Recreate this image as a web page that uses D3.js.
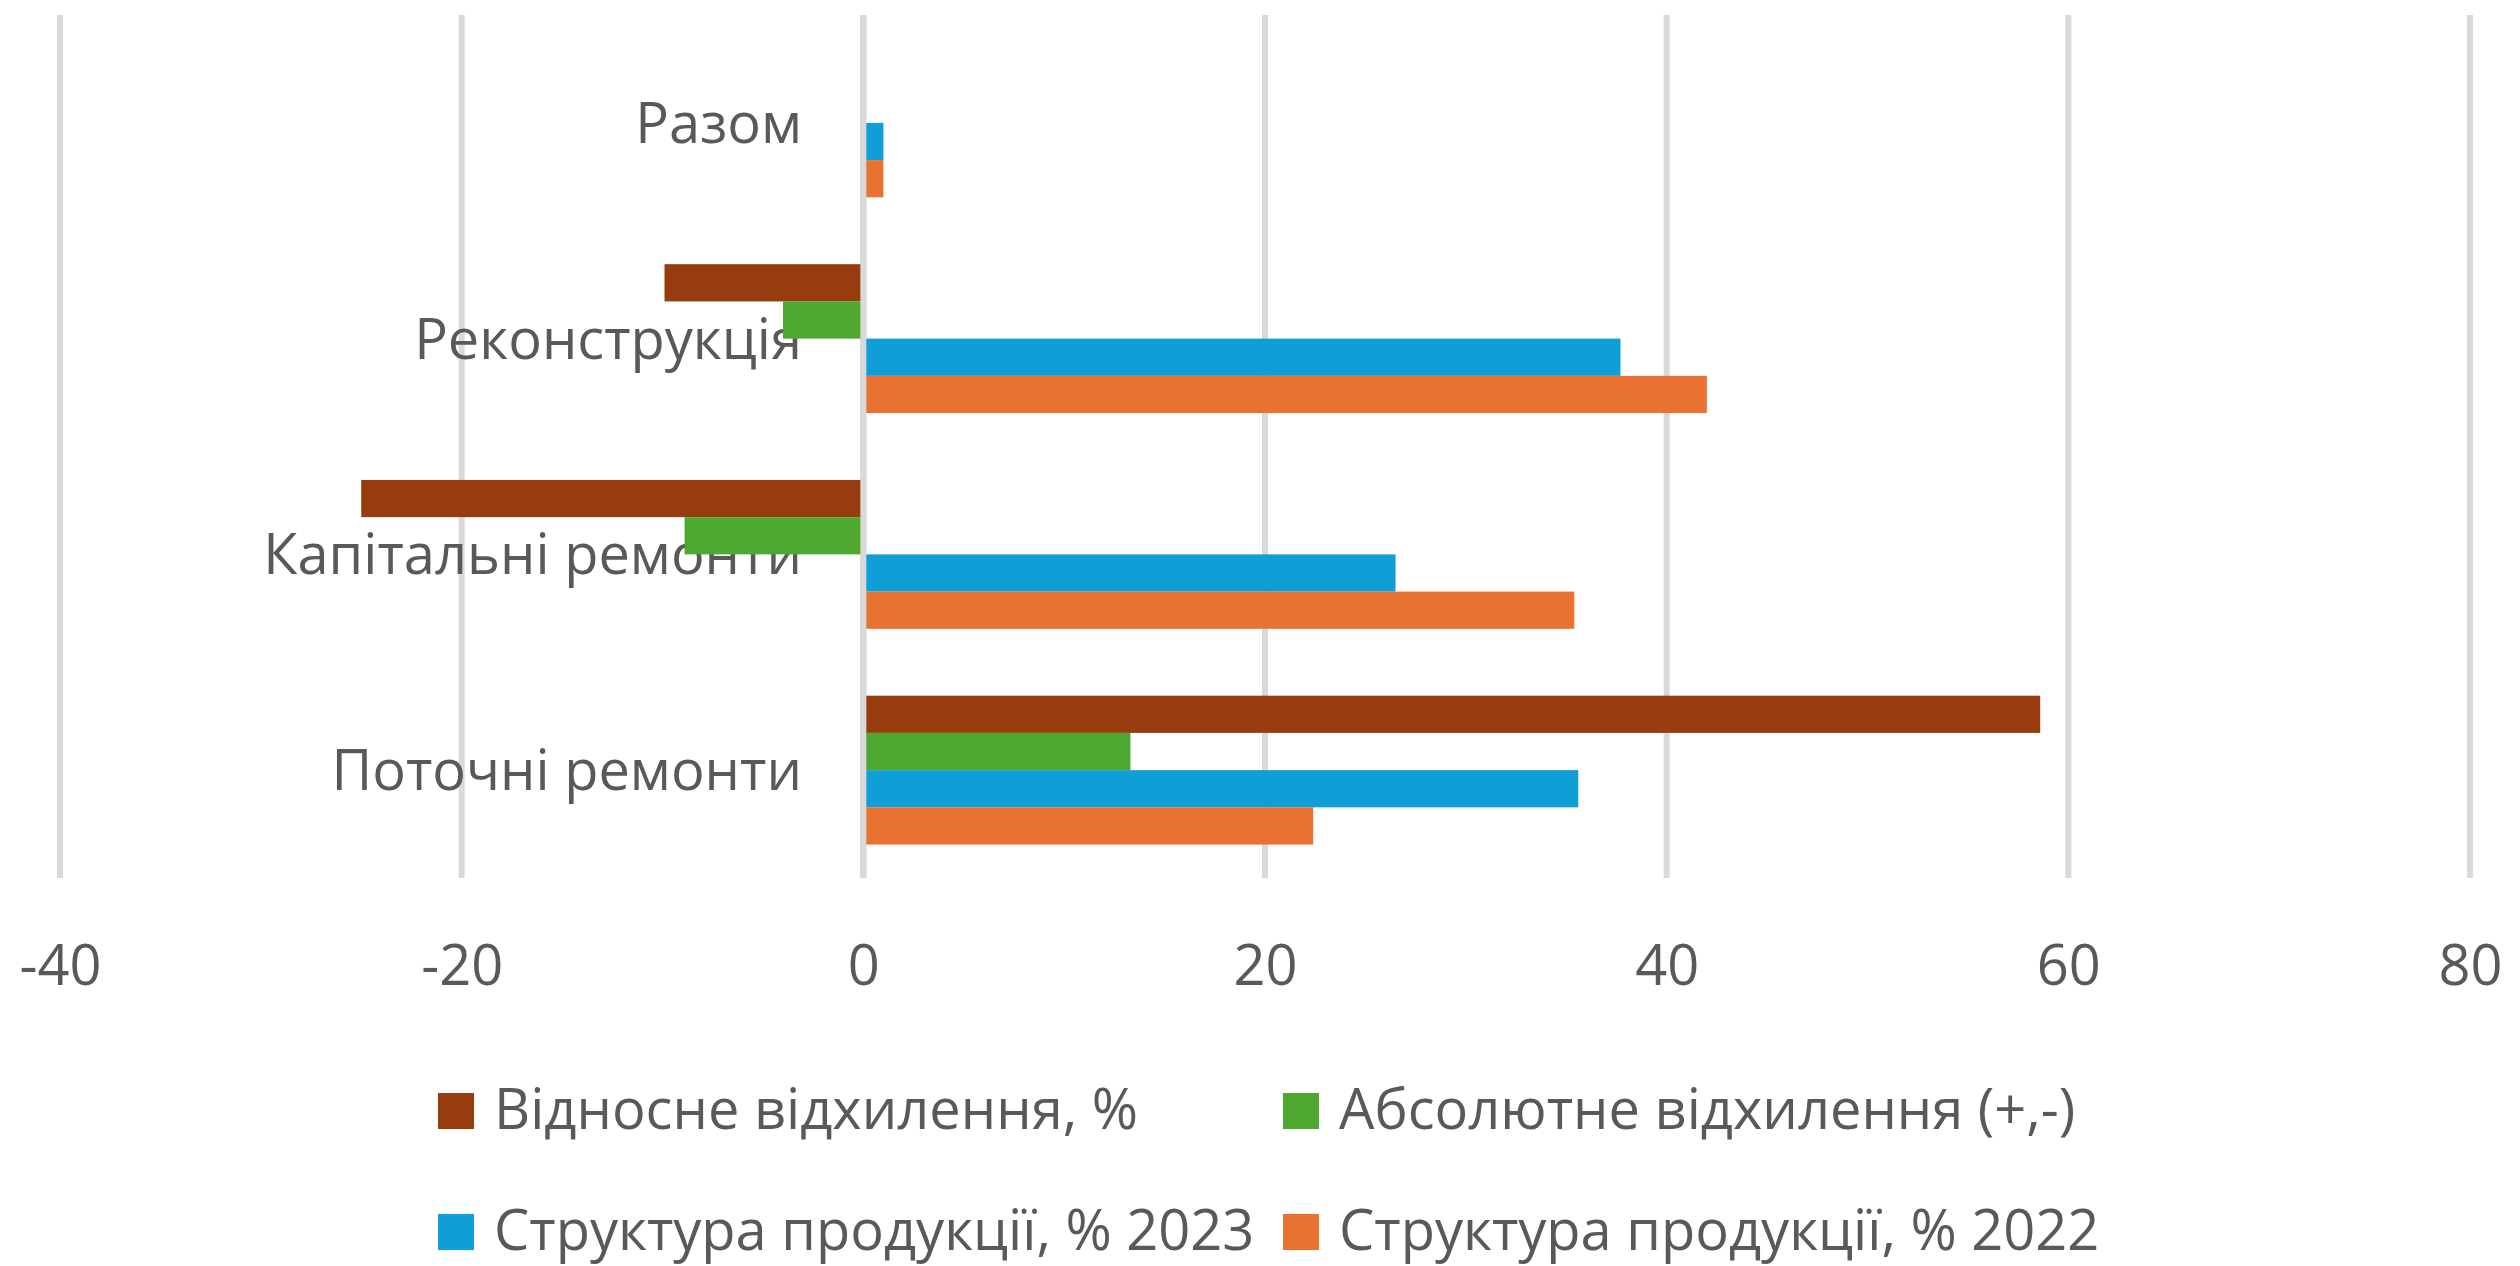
<!DOCTYPE html>
<html>
<head>
<meta charset="utf-8">
<script src="https://cdn.jsdelivr.net/npm/d3@7"></script>
<style>
  html, body { margin: 0; padding: 0; background: #ffffff; }
  svg { display: block; }
  text { font-family: "Open Sans", "Noto Sans", sans-serif; fill: #595959; }
</style>
</head>
<body>
<svg id="chart" width="2520" height="1266"></svg>
<script>
// ---- data ----
const categories = ["Разом", "Реконструкція", "Капітальні ремонти", "Поточні ремонти"];
const seriesNames = ["Відносне відхилення, %", "Абсолютне відхилення (+,-)", "Структура продукції, % 2023", "Структура продукції, % 2022"];
const relativeDeviation = [null, -9.9, -25.0, 58.6];
const absoluteDeviation = [null, -4.0, -8.9, 13.3];
const structure2023 = [1.0, 37.7, 26.5, 35.6];
const structure2022 = [1.0, 42.0, 35.4, 22.4];
const tickValues = [-40, -20, 0, 20, 40, 60, 80];
const seriesColors = ["#973C0F", "#4EA72E", "#0F9ED5", "#E97132"];

const seriesValues = [relativeDeviation, absoluteDeviation, structure2023, structure2022];

// ---- layout ----
const svg = d3.select("#chart");
const plotTop = 15, plotBottom = 878;
const x = d3.scaleLinear().domain([-40, 80]).range([60, 2470]);
const y0 = d3.scaleBand().domain(categories).range([plotTop, plotBottom]).padding(0);
const bw = y0.bandwidth();
const groupH = bw * 0.69;
const y1 = d3.scaleBand().domain(seriesNames).range([(bw - groupH) / 2, (bw + groupH) / 2]).padding(0);

const fontSize = 56;

// gridlines
const grid = svg.append("g");
grid.selectAll("line").data(tickValues).join("line")
  .attr("x1", d => x(d)).attr("x2", d => x(d))
  .attr("y1", plotTop).attr("y2", plotBottom)
  .attr("stroke", "#d9d9d9").attr("stroke-width", 6);

// category labels (drawn under bars)
svg.append("g").selectAll("text").data(categories).join("text")
  .attr("x", 802)
  .attr("y", d => y0(d) + bw / 2 + 20)
  .attr("text-anchor", "end")
  .attr("font-size", fontSize)
  .text(d => d);

// bars
const rows = [];
categories.forEach((c, i) => {
  seriesNames.forEach((s, j) => {
    const v = seriesValues[j][i];
    if (v !== null && v !== undefined) rows.push({ c, s, v, color: seriesColors[j] });
  });
});
svg.append("g").selectAll("rect").data(rows).join("rect")
  .attr("x", d => Math.min(x(0), x(d.v)))
  .attr("width", d => Math.abs(x(d.v) - x(0)))
  .attr("y", d => y0(d.c) + y1(d.s))
  .attr("height", y1.bandwidth())
  .attr("fill", d => d.color);

// zero line on top
svg.append("line")
  .attr("x1", x(0)).attr("x2", x(0))
  .attr("y1", plotTop).attr("y2", plotBottom)
  .attr("stroke", "#d9d9d9").attr("stroke-width", 6);

// x axis labels
const axis = d3.axisBottom(x).tickValues(tickValues).tickSize(0).tickPadding(0).tickFormat(d3.format("d"));
const ax = svg.append("g").attr("transform", "translate(0,945)").call(axis);
ax.select(".domain").remove();
ax.selectAll("text")
  .attr("font-size", fontSize)
  .attr("font-family", "'Open Sans', 'Noto Sans', sans-serif")
  .attr("fill", "#595959")
  .attr("dy", "0.71em")
  .text(d => d < 0 ? "-" + Math.abs(d) : d);

// legend
const legendPos = [
  { x: 438, y: 1093 }, { x: 1283, y: 1093 },
  { x: 438, y: 1214 }, { x: 1283, y: 1214 }
];
const lg = svg.append("g").selectAll("g").data(seriesNames).join("g")
  .attr("transform", (d, i) => `translate(${legendPos[i].x},${legendPos[i].y})`);
lg.append("rect").attr("width", 36).attr("height", 36)
  .attr("fill", (d, i) => seriesColors[i]);
lg.append("text").attr("x", 56).attr("y", 36)
  .attr("font-size", fontSize)
  .text(d => d);
</script>
</body>
</html>
